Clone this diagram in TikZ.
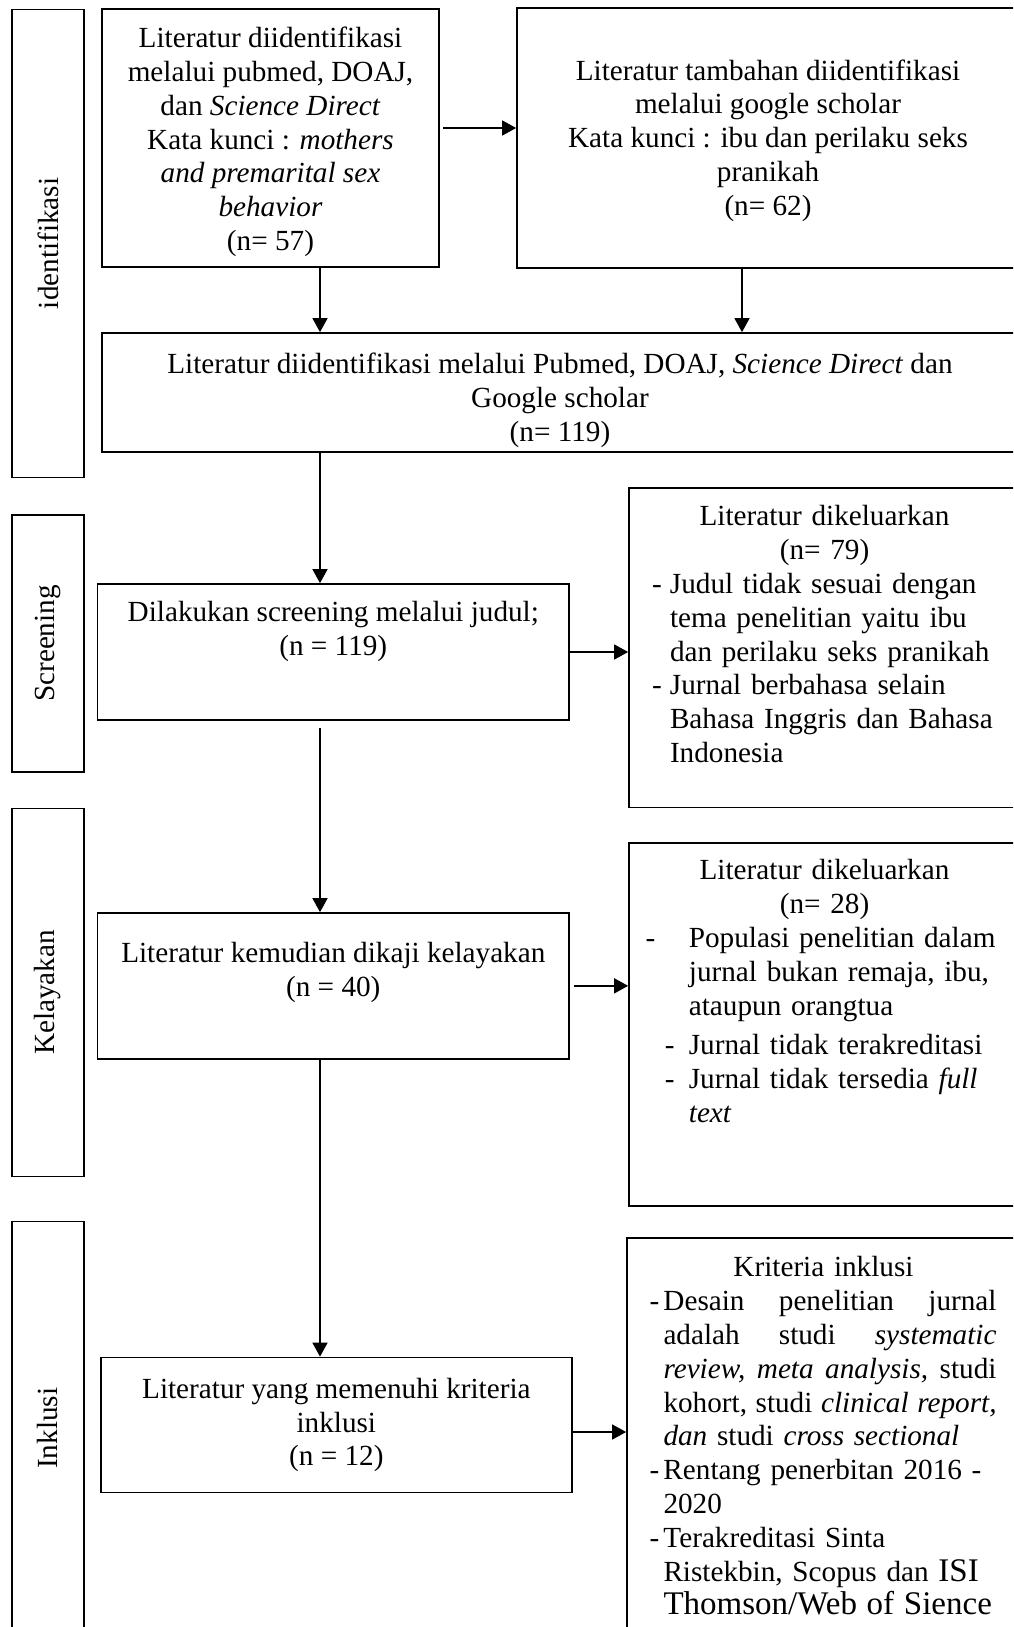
\documentclass[tikz,border=0pt]{standalone}
\usepackage{fontspec}
\setmainfont{Liberation Serif}
\usetikzlibrary{arrows.meta,positioning}

\begin{document}
\begin{tikzpicture}[
		x=0.5pt, y=-0.5pt,
		every node/.style={
			inner sep=0pt,
			font=\fontsize{14.6}{16.9}\selectfont
		},
		flowbox/.style={draw, line width=0.85pt, rectangle, align=center},
		stagebox/.style={flowbox, rotate=90, minimum height=35.75pt},
		bodytext/.style={align=center},
		listtext/.style={align=left},
		flowarrow/.style={draw, line width=0.75pt, -{Triangle[width=7.5pt,length=7pt]}}
		]
		
		\path[use as bounding box, clip] (0,0) rectangle (1013,1627);
		
		\coordinate (spine) at (320,0);
		\coordinate (spineb) at (742,0);
		
		\node[stagebox, minimum width=234pt] (idf) at (48,243.4) {identifikasi};
		\node[stagebox, minimum width=128.7pt] (scrstage) at (48,643.5) {Screening};
		\node[stagebox, minimum width=184pt] (eligstage) at (48,992.5) {Kelayakan};
		\node[stagebox, minimum width=206.7pt] (inclstage) at (48,1428.3) {Inklusi};
		
		\node[flowbox, minimum width=168.5pt, minimum height=128.7pt] (pubmed) at (270.5,138) {};
		\node[bodytext, yshift=-2pt] (pubmedtxt) at (pubmed) {Literatur diidentifikasi\\melalui pubmed, DOAJ,\\dan \textit{Science Direct}\\Kata kunci : \textit{mothers}\\\textit{and premarital sex}\\\textit{behavior}\\(n= 57)};
		\node[flowbox, minimum width=251pt, minimum height=130pt] (scholar) at (768,138) {};
		\node[bodytext, yshift=-1.3pt] (scholartxt) at (scholar) {Literatur tambahan diidentifikasi\\melalui google scholar\\Kata kunci : ibu dan perilaku seks\\pranikah\\(n= 62)};
		\node[flowbox, minimum width=458pt, minimum height=59.5pt] (merged) at (560,392.5) {};
		\node[bodytext, yshift=-4pt] (mergedtxt) at (merged) {Literatur diidentifikasi melalui Pubmed, DOAJ, \textit{Science Direct} dan\\Google scholar\\(n= 119)};
		
		\node[flowbox, minimum width=235.7pt, minimum height=68pt] (screen) at (333.3,652) {};
		\node[bodytext, below=9pt of screen.north] (screentxt) {Dilakukan screening melalui judul;\\(n = 119)};
		
		\node[flowbox, minimum width=195.5pt, minimum height=159.75pt] (excla) at (824.5,647.75) {};
		\node[listtext, text width=172.5pt, below=9pt of excla.north] (exclatxt) {%
			\centering Literatur dikeluarkan\\(n= 79)\par
			\raggedright
			\hangindent=9pt\hangafter=1\makebox[9pt][l]{-}Judul tidak sesuai dengan\newline tema penelitian yaitu ibu\newline dan perilaku seks pranikah\par
			\hangindent=9pt\hangafter=1\makebox[9pt][l]{-}Jurnal berbahasa selain\newline Bahasa Inggris dan Bahasa\newline Indonesia\par};
		
		\node[flowbox, minimum width=235.7pt, minimum height=72.85pt] (elig) at (333.3,985.85) {};
		\node[bodytext, below=15pt of elig.north] (eligtxt) {Literatur kemudian dikaji kelayakan\\(n = 40)};
		
		\node[flowbox, minimum width=195.5pt, minimum height=181.5pt] (exclb) at (824.5,1024.5) {};
		\node[listtext, text width=179pt, below=8.5pt of exclb.north] (exclbtxt) {%
			\centering Literatur dikeluarkan\\(n= 28)\par
			\raggedright
			\hangindent=21.7pt\hangafter=1\makebox[21.7pt][l]{-}Populasi penelitian dalam\newline jurnal bukan remaja, ibu,\newline ataupun orangtua\par
			\vspace{3pt}
			\hangindent=21.7pt\hangafter=1\makebox[21.7pt][l]{\hspace{9.7pt}-}Jurnal tidak terakreditasi\par
			\hangindent=21.7pt\hangafter=1\makebox[21.7pt][l]{\hspace{9.7pt}-}Jurnal tidak tersedia \textit{full}\newline \textit{text}\par};
		
		\node[flowbox, minimum width=235.65pt, minimum height=67.5pt] (incl) at (336.35,1425) {Literatur yang memenuhi kriteria\\inklusi\\(n = 12)};
		
		\node[flowbox, minimum width=196.5pt, minimum height=201pt] (crit) at (823.5,1439) {};
		\node[listtext, text width=174pt, below=9.5pt of crit.north] (crittxt) {%
			\centering Kriteria inklusi\par
			\raggedright
			\makebox[7pt][l]{-}\hbox to 166.5pt{Desain\hfill penelitian\hfill jurnal}\par
			\hspace*{7pt}\hbox to 166.5pt{adalah\hfill studi\hfill \textit{systematic}}\par
			\hspace*{7pt}\hbox to 166.5pt{\textit{review,}\hfill\textit{meta}\hfill\textit{analysis,}\hfill studi}\par
			\hspace*{7pt}\hbox to 166.5pt{kohort,\hfill studi\hfill\textit{clinical}\hfill\textit{report,}}\par
			\hspace*{7pt}\textit{dan} studi \textit{cross sectional}\par
			\hangindent=7pt\hangafter=1\makebox[7pt][l]{-}Rentang penerbitan 2016 -\newline 2020\par
			\hangindent=7pt\hangafter=1\makebox[7pt][l]{-}Terakreditasi Sinta\newline Ristekbin, Scopus dan {\fontsize{16.5}{16.9}\selectfont ISI\newline Thomson/Web of Sience}\par};
		
		\draw[flowarrow] ([xshift=1.5pt,yshift=5pt]pubmed.east) -- ([yshift=5pt]scholar.west);
		\draw[flowarrow] (pubmed.south -| spine) -- (merged.north -| spine);
		\draw[flowarrow] (scholar.south -| spineb) -- (merged.north -| spineb);
		\draw[flowarrow] (merged.south -| spine) -- (screen.north -| spine);
		\draw[flowarrow] (screen.east) -- (screen.east -| excla.west);
		\draw[flowarrow] (screen.south -| spine) ++(0pt,-3.5pt) -- (elig.north -| spine);
		\draw[flowarrow] (elig.east) ++(2pt,0pt) -- (elig.east -| exclb.west);
		\draw[flowarrow] (elig.south -| spine) -- (incl.north -| spine);
		\path ([yshift=-3.5pt]incl.east) coordinate (inclout);
		\draw[flowarrow] (inclout) -- (inclout -| crit.west);
	\end{tikzpicture}
\end{document}
